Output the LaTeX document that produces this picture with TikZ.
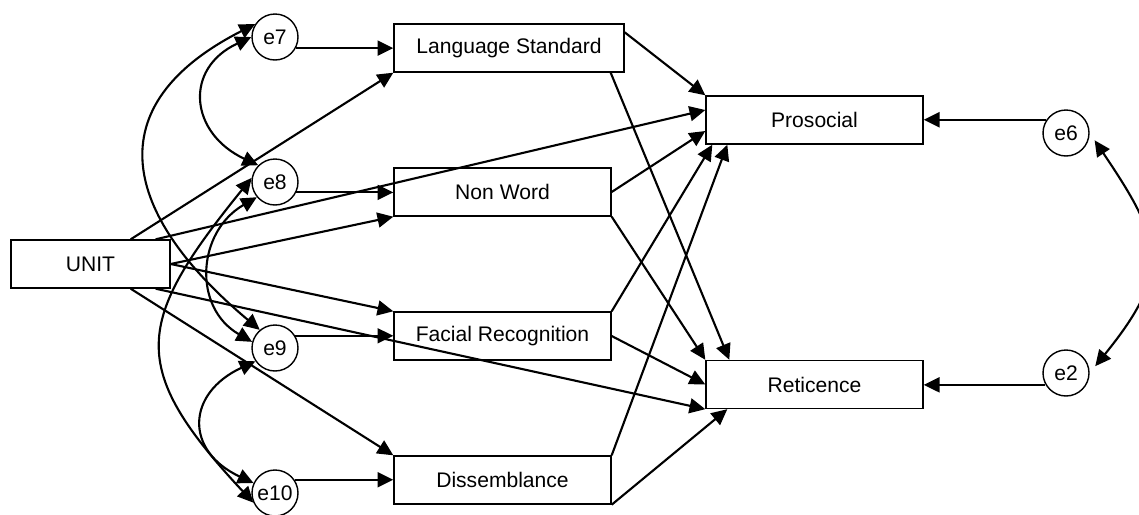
\documentclass[tikz,border=0pt]{standalone}
\usepackage{fontspec}
\setmainfont{Liberation Sans}
\usetikzlibrary{arrows.meta,calc}

\begin{document}
\begin{tikzpicture}[x=0.02cm, y=-0.02cm, font=\fontsize{12}{14}\selectfont,
		box/.style={draw, rectangle, line width=0.8pt, minimum height=0.96cm, inner sep=0pt},
		err/.style={draw, circle, line width=0.8pt, minimum size=0.92cm, inner sep=0pt},
		arr/.style={-{Triangle[length=9pt,width=8.5pt]}, line width=1.2pt},
		cov/.style={{Triangle[length=9pt,width=8.5pt]}-{Triangle[length=9pt,width=8.5pt]}, line width=1.2pt}]
				\useasboundingbox (0,0) rectangle (1139,514);
				
				% Variabili osservate
				\node[box, minimum width=3.18cm] (unit) at (90.5,264) {UNIT};
				\node[box, minimum width=4.6cm] (langstd) at (509,48) {Language Standard};
				\node[box, minimum width=4.34cm] (nonword) at (502.5,192) {Non Word};
				\node[box, minimum width=4.34cm] (facial) at (502.5,336) {Facial Recognition};
				\node[box, minimum width=4.34cm] (dissem) at (502.5,480) {Dissemblance};
				\node[box, minimum width=4.34cm] (prosocial) at (814.5,120) {Prosocial};
				\node[box, minimum width=4.34cm] (reticence) at (814.5,384.5) {Reticence};
				
				% Errori
				\node[err] (e7) at (275,37) {e7};
				\node[err] (e8) at (275,182) {e8};
				\node[err] (e9) at (275,348) {e9};
				\node[err] (e10) at (275,493) {e10};
				\node[err] (e6) at (1066,133) {e6};
				\node[err] (e2) at (1066,373) {e2};
				
				% UNIT
				\draw[arr] ($(unit.north east)+(-40,0)$) -- (langstd.south west);
				\draw[arr] ($(unit.north east)+(-15,0)$) -- ($(prosocial.west)+(0,-10)$);
				\draw[arr] (unit.east) -- (nonword.south west);
				\draw[arr] (unit.east) -- (facial.north west);
				\draw[arr] ($(unit.south east)+(-15,0)$) -- (reticence.south west);
				\draw[arr] ($(unit.south east)+(-40,0)$) -- (dissem.north west);
				
				% Mediatori
				\draw[arr] ($(langstd.north east)+(0,9)$) -- (prosocial.north west);
				\draw[arr] ($(langstd.south east)+(-14,0)$) -- ($(reticence.north west)+(24,0)$);
				\draw[arr] (nonword.east) -- ($(prosocial.west)+(0,11)$);
				\draw[arr] (nonword.south east) -- (reticence.north west);
				\draw[arr] (facial.north east) -- ($(prosocial.south west)+(7,0)$);
				\draw[arr] (facial.east) -- (reticence.west);
				\draw[arr] (dissem.north east) -- ($(prosocial.south west)+(22,0)$);
				\draw[arr] (dissem.south east) -- ($(reticence.south west)+(22,0)$);
				
				% Errori -> variabili
				\draw[arr] (e7.-28) -- (e7.-28 -| langstd.west);
				\draw[arr] (e8.-26) -- (e8.-26 -| nonword.west);
				\draw[arr] (e9.31) -- (e9.31 -| facial.west);
				\draw[arr] (e10.34) -- (e10.34 -| dissem.west);
				\draw[arr] (e6.146) -- (e6.146 -| prosocial.east);
				\draw[arr] (e2.210) -- (e2.210 -| reticence.east);
				
				% Covarianze
				\draw[cov] (e7.west) to[out=205, in=155, looseness=1.5] (e8.135);
				\draw[cov] (e8.220) to[out=210, in=150, looseness=1.22] (e9.165);
				\draw[cov] (e9.214) to[out=205, in=155, looseness=1.6] (e10.155);
				\draw[cov] (e7.147) to[out=207, in=140, looseness=1.5] (e9.130);
				\draw[cov] (e8.170) to[out=231, in=133, looseness=1.46] (e10.204);
				\draw[cov, shorten <=5pt, shorten >=5pt] (e6.east) to[out=-56, in=51, looseness=1.4] (e2.east);
			\end{tikzpicture}
\end{document}
